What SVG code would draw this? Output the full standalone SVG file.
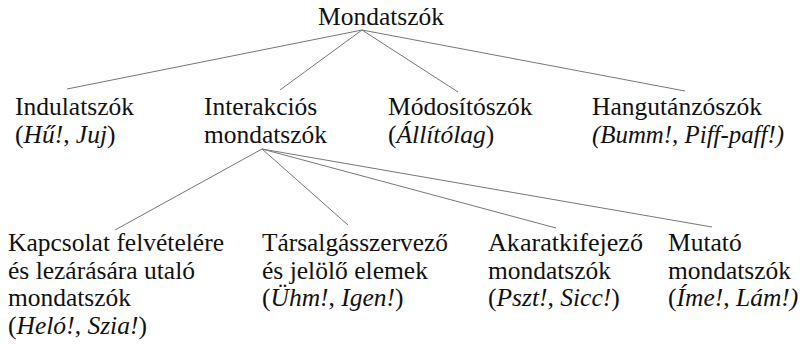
<svg xmlns="http://www.w3.org/2000/svg" width="803" height="350" viewBox="0 0 803 350">
<style>
.t{font-family:'Liberation Serif','DejaVu Serif',serif;font-size:25.5px;fill:#111}
.i{font-style:italic}
.c{stroke:#777;stroke-width:1;fill:none}
</style>
<rect width="803" height="350" fill="#fff"/>
<g id="connectors">
<line class="c" x1="362" y1="30" x2="67" y2="89"/>
<line class="c" x1="362" y1="30" x2="280" y2="90"/>
<line class="c" x1="362" y1="30" x2="458" y2="92"/>
<line class="c" x1="362" y1="30" x2="685" y2="91"/>
<line class="c" x1="262" y1="149" x2="115" y2="230"/>
<line class="c" x1="262" y1="149" x2="348" y2="225"/>
<line class="c" x1="262" y1="149" x2="556" y2="228"/>
<line class="c" x1="262" y1="149" x2="712" y2="227"/>
</g>
<g class="t" font-family="Liberation Serif, DejaVu Serif, serif" font-size="25.5">
<g id="root"><text x="318" y="25" textLength="126" lengthAdjust="spacingAndGlyphs">Mondatszók</text></g>
<g id="indulatszok"><text x="15" y="115" textLength="119" lengthAdjust="spacingAndGlyphs">Indulatszók</text><text x="15" y="142.5" textLength="100.5" lengthAdjust="spacingAndGlyphs">(<tspan class="i">Hű!</tspan>, <tspan class="i">Juj</tspan>)</text></g>
<g id="interakcios"><text x="204" y="115" textLength="113.3" lengthAdjust="spacingAndGlyphs">Interakciós</text><text x="204" y="142.5" textLength="123" lengthAdjust="spacingAndGlyphs">mondatszók</text></g>
<g id="modositoszok"><text x="388" y="115" textLength="144.5" lengthAdjust="spacingAndGlyphs">Módosítószók</text><text x="388" y="142.5" textLength="106.3" lengthAdjust="spacingAndGlyphs">(<tspan class="i">Állítólag</tspan>)</text></g>
<g id="hangutanzoszok"><text x="592" y="115" textLength="170" lengthAdjust="spacingAndGlyphs">Hangutánzószók</text><text x="592" y="142.5" class="i" textLength="192" lengthAdjust="spacingAndGlyphs">(Bumm!, Piff-paff!)</text></g>
<g id="kapcsolat"><text x="8" y="251" textLength="216" lengthAdjust="spacingAndGlyphs">Kapcsolat felvételére</text><text x="8" y="278.5" textLength="187" lengthAdjust="spacingAndGlyphs">és lezárására utaló</text><text x="8" y="306" textLength="123" lengthAdjust="spacingAndGlyphs">mondatszók</text><text x="8" y="333.5" textLength="139" lengthAdjust="spacingAndGlyphs">(<tspan class="i">Heló!</tspan>, <tspan class="i">Szia!</tspan>)</text></g>
<g id="tarsalgas"><text x="262" y="251" textLength="186" lengthAdjust="spacingAndGlyphs">Társalgásszervező</text><text x="262" y="278.5" textLength="166" lengthAdjust="spacingAndGlyphs">és jelölő elemek</text><text x="262" y="306" textLength="141.6" lengthAdjust="spacingAndGlyphs">(<tspan class="i">Ühm!</tspan>, <tspan class="i">Igen!</tspan>)</text></g>
<g id="akarat"><text x="488" y="251" textLength="155" lengthAdjust="spacingAndGlyphs">Akaratkifejező</text><text x="488" y="278.5" textLength="123" lengthAdjust="spacingAndGlyphs">mondatszók</text><text x="488" y="306" textLength="131.7" lengthAdjust="spacingAndGlyphs">(<tspan class="i">Pszt!</tspan>, <tspan class="i">Sicc!</tspan>)</text></g>
<g id="mutato"><text x="668" y="251" textLength="73.7" lengthAdjust="spacingAndGlyphs">Mutató</text><text x="668" y="278.5" textLength="123" lengthAdjust="spacingAndGlyphs">mondatszók</text><text x="668" y="306" textLength="130.3" lengthAdjust="spacingAndGlyphs">(<tspan class="i">Íme!</tspan>, <tspan class="i">Lám!)</tspan></text></g>
</g>
</svg>
